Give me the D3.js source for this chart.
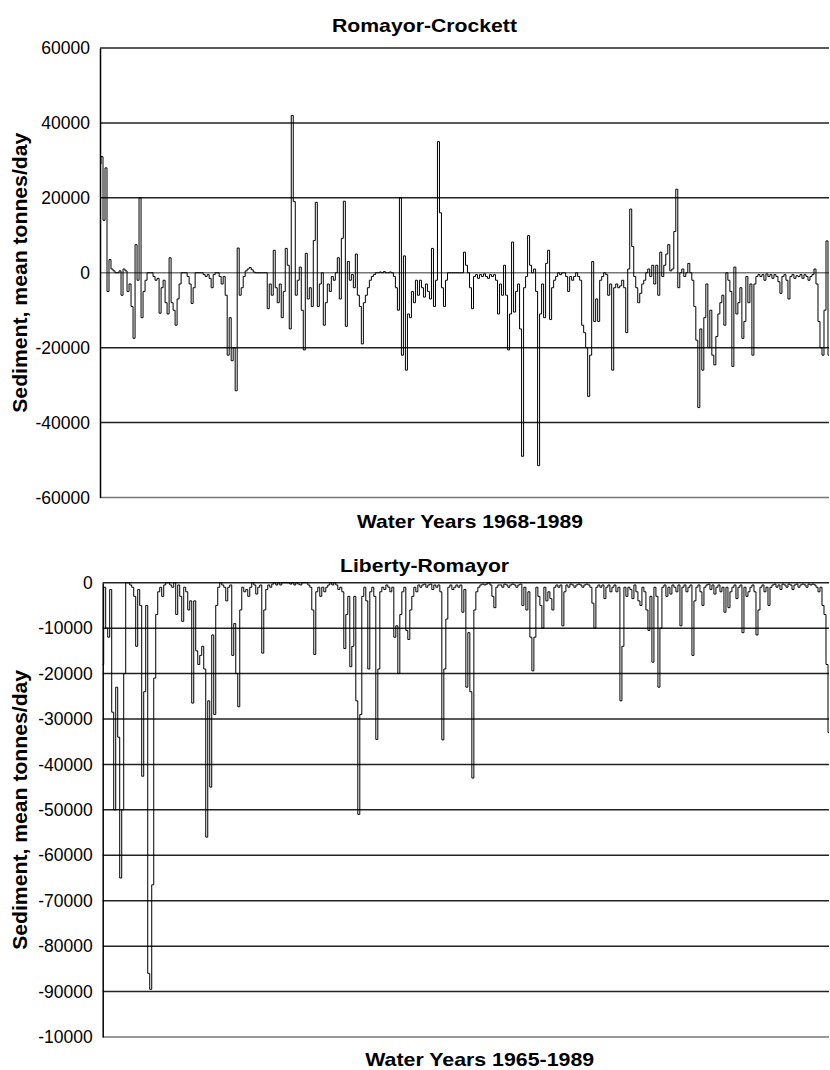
<!DOCTYPE html>
<html><head><meta charset="utf-8">
<script src="https://cdn.jsdelivr.net/npm/d3@7"></script>
<style>body{margin:0;background:#fff}svg{display:block}text{font-family:"Liberation Sans",Arial,Helvetica,sans-serif;fill:#000}</style>
</head><body>
<svg id="c" width="830" height="1070"></svg>
<script>
// values in thousand tonnes/day, equal time steps
const romayorCrockett = [
29,31,14,28,-5,3.5,1,0.5,0,0,
0.5,-6,1,0.5,-5,-3,-9,-17.5,7.5,-2,
20,-12,-5,-2,0,0,0,-1,-2,-1.5,
-10.8,-4,-2,-8,-11,4,-8,-10,-14,-7,
-3,0,0,0,-1,-3,-8.2,-4,0,0,
0,0,-0.5,-1,-0.5,-1.5,-4,-0.5,0,0,
-1,-3,-1,-6,-22,-12,-23.5,-20,-31.5,6.6,
-6,-4,-1,0.5,1,1.4,0.8,0.2,0,0,
0,0,0,0,-9.6,-3,-6,6,-4,-8,
-3,-12,-5,6.5,2,-15,42,19,-6,-2,
1.5,-10,-20.6,5.2,-7,-4,-9,8.6,18.8,-9,
-3,0,-14,-8,-3,-5,-1,-2,0,4,
-7,9.2,19.1,-14.3,3,-2,-0.5,-4,5,-6,
-9,-19,-8,-6,-4,-2,-1,-0.5,0,0,
0.2,0,0.3,0,0,0.2,0,-1,-4,-10,
20,-22,4.5,-26,-11,-12,-5,-8,-2,-6,
-2,-4,-6.5,-3,-5,-7,6.5,-9,-2,35,
16,-4,-9,-2,0,0,0,0,0,0,
0,0,5.5,2,0,-4,-9.6,-1,-0.5,-1.5,
-0.5,-1,-0.3,-1,-1.5,-0.5,-1,-0.5,-2,-11,
-3,-6,2,-6,-20.6,-11,8.2,-10.5,-5,-3,
-15,-49,-4,-1,9.9,2,0,1,-5,-51.5,
-11,-3,-12,2.5,6,-12.5,-4,-2,-1,0,
-0.5,0,0,-1,-5,-1,-2,-1,0,-1,
-2,-14,-16,-20,-33,-22,3,-13,-7,-13,
-2,-1,0,-0.5,-6,-3,-26,-4,-3,-4,
-3.5,-2,-4,-16,1,17,7,-1,-4,-8,
-5.5,-3,-2,0,1,-1,2,-3,2,-6,
5.5,-1,2,5,7.5,0.5,1,11,22.3,-4,
0,1,-1,0,2.5,0,-2,-9,-18,-36,
-15,-26,-12,-3,-20,-10,-22,-24.6,-17,-11,
-8,-6,-14,0,-2,-5,-25,1.5,-11,-8,
-4,-17.5,-13,-1,-8,-3,-22,-3,-1,-0.5,
-1,-0.5,-2,-0.3,-1,-0.5,-1.5,-0.5,-1,-2.4,
-5.5,-1,-0.5,-2,-7,-1,-0.5,-1.5,-0.8,-1,
-0.5,-1.5,-0.5,-1,-2,-1,-0.5,1,-3,-13,
-20,-22,-10,8.5,-22
];

const libertyRomayor = [
-18,-1,-10,-12,-1.5,-28.5,-50,-23,-34,-65,
-50,-20,0,0,-0.5,-1,-3,-14,-1.5,-5,
-42.6,-24,-5,-86,-89.5,-66.5,-21,-7,-2,-1,
-3,-0.5,0,0,-0.5,-1,0,-7,-0.5,-3,
-8.5,-1,-2,-6,-4,-26.5,-4,-15,-18,-16,
-14,-19,-56,-26,-45,-11.5,-29,-5,-1,0,
-0.5,-1,-4,-1,-0.5,-16,-9,-20,-27.3,-6,
-1,-2,-1.5,-3,-1,0,-0.5,-2.5,-1,-0.5,
-15.5,-6,-1.5,-0.5,-1,-0.3,0,-0.5,0,-0.5,
0,0,0,0,-0.3,0,-0.5,0,-0.3,-0.5,
0,0,0,-0.5,-1,-6,-15.8,-2,-1,-3,
-1,-2,-1,-0.5,0,-0.5,0,-0.5,-1.5,-1,
-2,-14.5,-7,-3,-18.5,-14,-3,-26,-51,-29,
-3,-1,-4,-19,-2,-1,-3,-34.5,-19,-2,
-1,-1.5,-0.5,-1,-2,-1,-12,-9.5,-20,-7,
-2,-1,-10.5,-12.5,-6,-3,-1,-2,-0.5,-1,
-0.5,-0.3,-1,-0.5,-0.3,-1.5,-0.5,-1,-0.5,-2,
-34.6,-19,-8,-1,-0.5,-1.5,-1,-0.5,-1,-0.5,
-6.5,-1.5,-23,-11,-24,-43,-6,-2,-1,-0.5,
-0.3,-0.5,-0.3,0,-0.5,-3,-5.5,-1,-0.5,-0.5,
-1,-0.3,-0.5,-1,-0.5,-0.3,-0.5,-1,-0.5,-0.3,
-5,-1,-6,-2,-12,-19.4,-12,-1,-3,-5,
-10,-1,-4,-2,-3.5,-6,-1,-0.5,-1,-0.5,
-9.5,-2,-0.5,-1,-0.3,-0.5,-1,-0.5,-0.3,-0.5,
-1,-0.5,-0.3,-0.5,-1,-4.5,-10,-1,-0.5,-1,
-0.5,-3.5,-1,-0.5,-2,-1,-0.5,-2,-1,-26,
-14,-1,-3,-1,-1.5,-3.5,-0.5,-2,-4,-5,
-1,-2,-6,-10.5,-3,-17.5,-1,-3,-23,-10,
-1,-0.5,-3,-1,-2.5,-0.5,-1,-2,-0.5,-9.5,
-1,-0.5,-2,-1,-0.5,-16,-4,-1,-0.5,-2,
-5,-1,-0.5,-0.3,-1.5,-0.5,-2.5,-1,-0.5,-2,
-1,-6.5,-1,-5.5,-2,-1,-0.5,-3.5,-1,-0.5,
-11,-1,-3,-2,-1,-0.5,-2,-11.5,-6,-1,
-0.5,-2,-1,-5,-1,-0.5,-0.3,-1,-0.5,-1.5,
-0.3,-0.5,-1,-0.3,-0.5,-1.5,-0.5,-0.3,-1,-0.5,
-0.3,-0.5,-1,-0.3,-0.5,-0.3,-0.5,-1,-2,-1,
-5,-7,-18,-33
];

const topTicks = [60,40,20,0,-20,-40,-60];
const topTickLabels = ["60000","40000","20000","0","-20000","-40000","-60000"];
const botTicks = [0,-10,-20,-30,-40,-50,-60,-70,-80,-90,-100];
const botTickLabels = ["0","-10000","-20000","-30000","-40000","-50000","-60000","-70000","-80000","-90000","-10000"];

const svg = d3.select("#c");

function panel(cfg){
  const g = svg.append("g");
  const x = d3.scaleLinear().domain([0, cfg.data.length-1]).range([cfg.left, cfg.right]);
  const y = d3.scaleLinear().domain(cfg.domain).range([cfg.bottom, cfg.top]);
  g.selectAll("line.grid").data(cfg.ticks).enter().append("line")
    .attr("x1", cfg.left).attr("x2", cfg.right)
    .attr("y1", d=>y(d)).attr("y2", d=>y(d))
    .attr("stroke", d => (d===cfg.grayTick || d===cfg.domain[0]) ? "#777" : "#222")
    .attr("stroke-width", 1.5);
  const ax = d3.axisLeft(y).tickValues(cfg.ticks).tickSize(0).tickPadding(10)
    .tickFormat((d,i)=>cfg.labels[i]);
  const axg = g.append("g").attr("transform", `translate(${cfg.left},0)`).call(ax);
  axg.select(".domain").attr("stroke","#000").attr("stroke-width",1.5);
  axg.selectAll("text").style("font-size","17.5px").attr("fill","#000")
     .style("font-family",'"Liberation Sans",Arial,sans-serif');
  const line = d3.line().x((d,i)=>x(i)).y(d=>y(d)).curve(d3.curveStep);
  g.append("path").datum(cfg.data).attr("d", line)
    .attr("fill","none").attr("stroke","#000").attr("stroke-width",1).attr("stroke-linejoin","miter");
  g.append("text").attr("x", cfg.titleX).attr("y", cfg.titleY).attr("text-anchor","middle")
    .style("font-size","19px").style("font-weight","bold")
    .attr("textLength", cfg.titleLen).attr("lengthAdjust","spacingAndGlyphs").text(cfg.title);
  g.append("text").attr("x", cfg.xlabX).attr("y", cfg.xlabY).attr("text-anchor","middle")
    .style("font-size","19px").style("font-weight","bold")
    .attr("textLength", cfg.xlabLen).attr("lengthAdjust","spacingAndGlyphs").text(cfg.xlabel);
  const cy = (cfg.top+cfg.bottom)/2;
  g.append("text").attr("transform",`translate(27,${cy}) rotate(-90)`).attr("text-anchor","middle")
    .style("font-size","20px").style("font-weight","bold")
    .attr("textLength", 280).attr("lengthAdjust","spacingAndGlyphs")
    .text("Sediment, mean tonnes/day");
}

panel({data: romayorCrockett, domain:[-60,60], ticks: topTicks, labels: topTickLabels, grayTick: 0,
  left:100, right:829, top:48, bottom:497.5,
  title:"Romayor-Crockett", titleX:424.5, titleY:32, titleLen:185,
  xlabel:"Water Years 1968-1989", xlabX:470, xlabY:528, xlabLen:226});

panel({data: libertyRomayor, domain:[-100,0], ticks: botTicks, labels: botTickLabels, grayTick: null,
  left:102.7, right:829, top:582.7, bottom:1037,
  title:"Liberty-Romayor", titleX:424.5, titleY:572, titleLen:169,
  xlabel:"Water Years 1965-1989", xlabX:479.7, xlabY:1066, xlabLen:229});
</script>
</body></html>
